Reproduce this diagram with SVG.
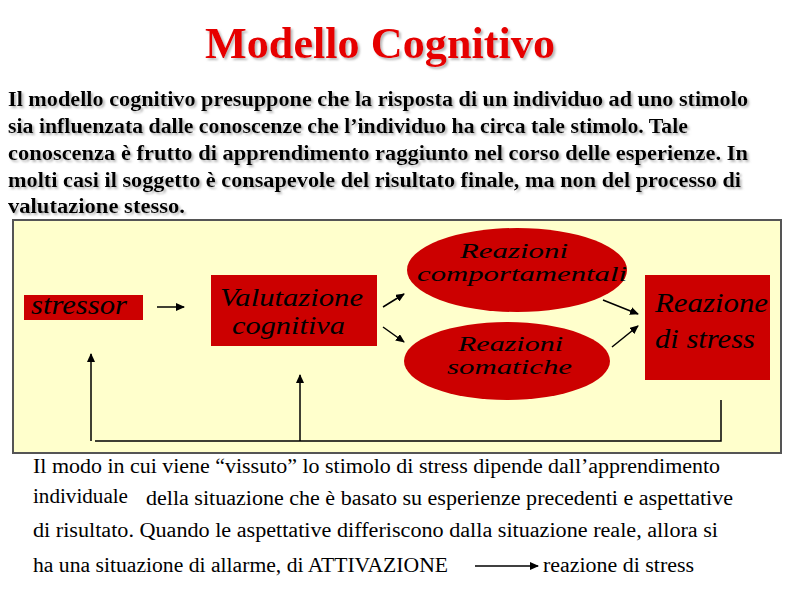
<svg xmlns="http://www.w3.org/2000/svg" width="800" height="600" viewBox="0 0 800 600">
<defs>
<style>
.title{font-family:"Liberation Serif","Times New Roman",serif;font-weight:bold;font-size:44px;fill:#E60000;}
.para{font-family:"Liberation Serif","Times New Roman",serif;font-weight:bold;font-size:20px;fill:#000;}
.lbl{font-family:"Liberation Serif","Times New Roman",serif;font-style:italic;fill:#000;}
.body{font-family:"Liberation Serif","Times New Roman",serif;font-size:20px;fill:#000;}
.node{fill:#CC0000;}
.conn{stroke:#000;stroke-width:1.5;fill:none;}
</style>
<filter id="sh" x="-5%" y="-20%" width="110%" height="150%">
<feDropShadow dx="2" dy="2" stdDeviation="1" flood-color="#888" flood-opacity="0.6"/>
</filter>
<marker id="ah" markerWidth="9" markerHeight="8" refX="8" refY="4" orient="auto" markerUnits="userSpaceOnUse">
<path d="M0,0 L9,4 L0,8 z" fill="#000"/>
</marker>
</defs>
<rect width="800" height="600" fill="#fff"/>
<text class="title" x="205" y="58" textLength="350" lengthAdjust="spacingAndGlyphs" filter="url(#sh)">Modello Cognitivo</text>
<g filter="url(#sh)">
<text class="para" x="8" y="106" textLength="740" lengthAdjust="spacingAndGlyphs">Il modello cognitivo presuppone che la risposta di un individuo ad uno stimolo</text>
<text class="para" x="8" y="133" textLength="680" lengthAdjust="spacingAndGlyphs">sia influenzata dalle conoscenze che l’individuo ha circa tale stimolo. Tale</text>
<text class="para" x="8" y="160" textLength="740" lengthAdjust="spacingAndGlyphs">conoscenza è frutto di apprendimento raggiunto nel corso delle esperienze. In</text>
<text class="para" x="8" y="187" textLength="733" lengthAdjust="spacingAndGlyphs">molti casi il soggetto è consapevole del risultato finale, ma non del processo di</text>
<text class="para" x="8" y="213" textLength="177" lengthAdjust="spacingAndGlyphs">valutazione stesso.</text>
</g>
<rect x="13" y="220" width="768" height="233" fill="#FFFFCC" stroke="#555" stroke-width="2"/>
<g id="stressor">
<rect class="node" x="24" y="295" width="119" height="25"/>
<text class="lbl" x="31" y="314" font-size="27" textLength="96" lengthAdjust="spacingAndGlyphs">stressor</text>
</g>
<g id="valutazione">
<rect class="node" x="211" y="275" width="166" height="71"/>
<text class="lbl" x="220" y="306" font-size="26" textLength="143" lengthAdjust="spacingAndGlyphs">Valutazione</text>
<text class="lbl" x="232" y="334" font-size="26" textLength="113" lengthAdjust="spacingAndGlyphs">cognitiva</text>
</g>
<g id="comportamentali">
<ellipse class="node" cx="517" cy="270" rx="110" ry="42"/>
<text class="lbl" x="460" y="258" font-size="22" textLength="108" lengthAdjust="spacingAndGlyphs">Reazioni</text>
<text class="lbl" x="417" y="281" font-size="22" textLength="210" lengthAdjust="spacingAndGlyphs">comportamentali</text>
</g>
<g id="somatiche">
<ellipse class="node" cx="507" cy="361" rx="103" ry="39"/>
<text class="lbl" x="458" y="351" font-size="22" textLength="105" lengthAdjust="spacingAndGlyphs">Reazioni</text>
<text class="lbl" x="447" y="374" font-size="22" textLength="125" lengthAdjust="spacingAndGlyphs">somatiche</text>
</g>
<g id="reazione-stress">
<rect class="node" x="645" y="275" width="125" height="105"/>
<text class="lbl" x="655" y="312" font-size="28" textLength="113" lengthAdjust="spacingAndGlyphs">Reazione</text>
<text class="lbl" x="655" y="348" font-size="28" textLength="100" lengthAdjust="spacingAndGlyphs">di stress</text>
</g>
<g id="connectors">
<line class="conn" x1="157" y1="307" x2="184" y2="307" marker-end="url(#ah)"/>
<line class="conn" x1="383" y1="307" x2="404" y2="294" marker-end="url(#ah)"/>
<line class="conn" x1="383" y1="327" x2="404" y2="342" marker-end="url(#ah)"/>
<line class="conn" x1="603" y1="300" x2="638" y2="314" marker-end="url(#ah)"/>
<line class="conn" x1="612" y1="347" x2="638" y2="326" marker-end="url(#ah)"/>
<polyline class="conn" points="721,400 721,441 95,441"/>
<line class="conn" x1="91" y1="441" x2="91" y2="354" marker-end="url(#ah)"/>
<line class="conn" x1="300" y1="441" x2="300" y2="375" marker-end="url(#ah)"/>
<line class="conn" x1="475" y1="566" x2="538" y2="566" stroke-width="1.2" marker-end="url(#ah)"/>
</g>
<text class="body" x="33" y="473" textLength="687" lengthAdjust="spacingAndGlyphs">Il modo in cui viene “vissuto” lo stimolo di stress dipende dall’apprendimento</text>
<text class="body" x="33" y="503" textLength="95" lengthAdjust="spacingAndGlyphs">individuale</text>
<text class="body" x="146" y="505" textLength="587" lengthAdjust="spacingAndGlyphs">della situazione che è basato su esperienze precedenti e aspettative</text>
<text class="body" x="33" y="537" textLength="685" lengthAdjust="spacingAndGlyphs">di risultato. Quando le aspettative differiscono dalla situazione reale, allora si</text>
<text class="body" x="33" y="572" textLength="415" lengthAdjust="spacingAndGlyphs">ha una situazione di allarme, di ATTIVAZIONE</text>
<text class="body" x="543" y="572" textLength="151" lengthAdjust="spacingAndGlyphs">reazione di stress</text>
</svg>
